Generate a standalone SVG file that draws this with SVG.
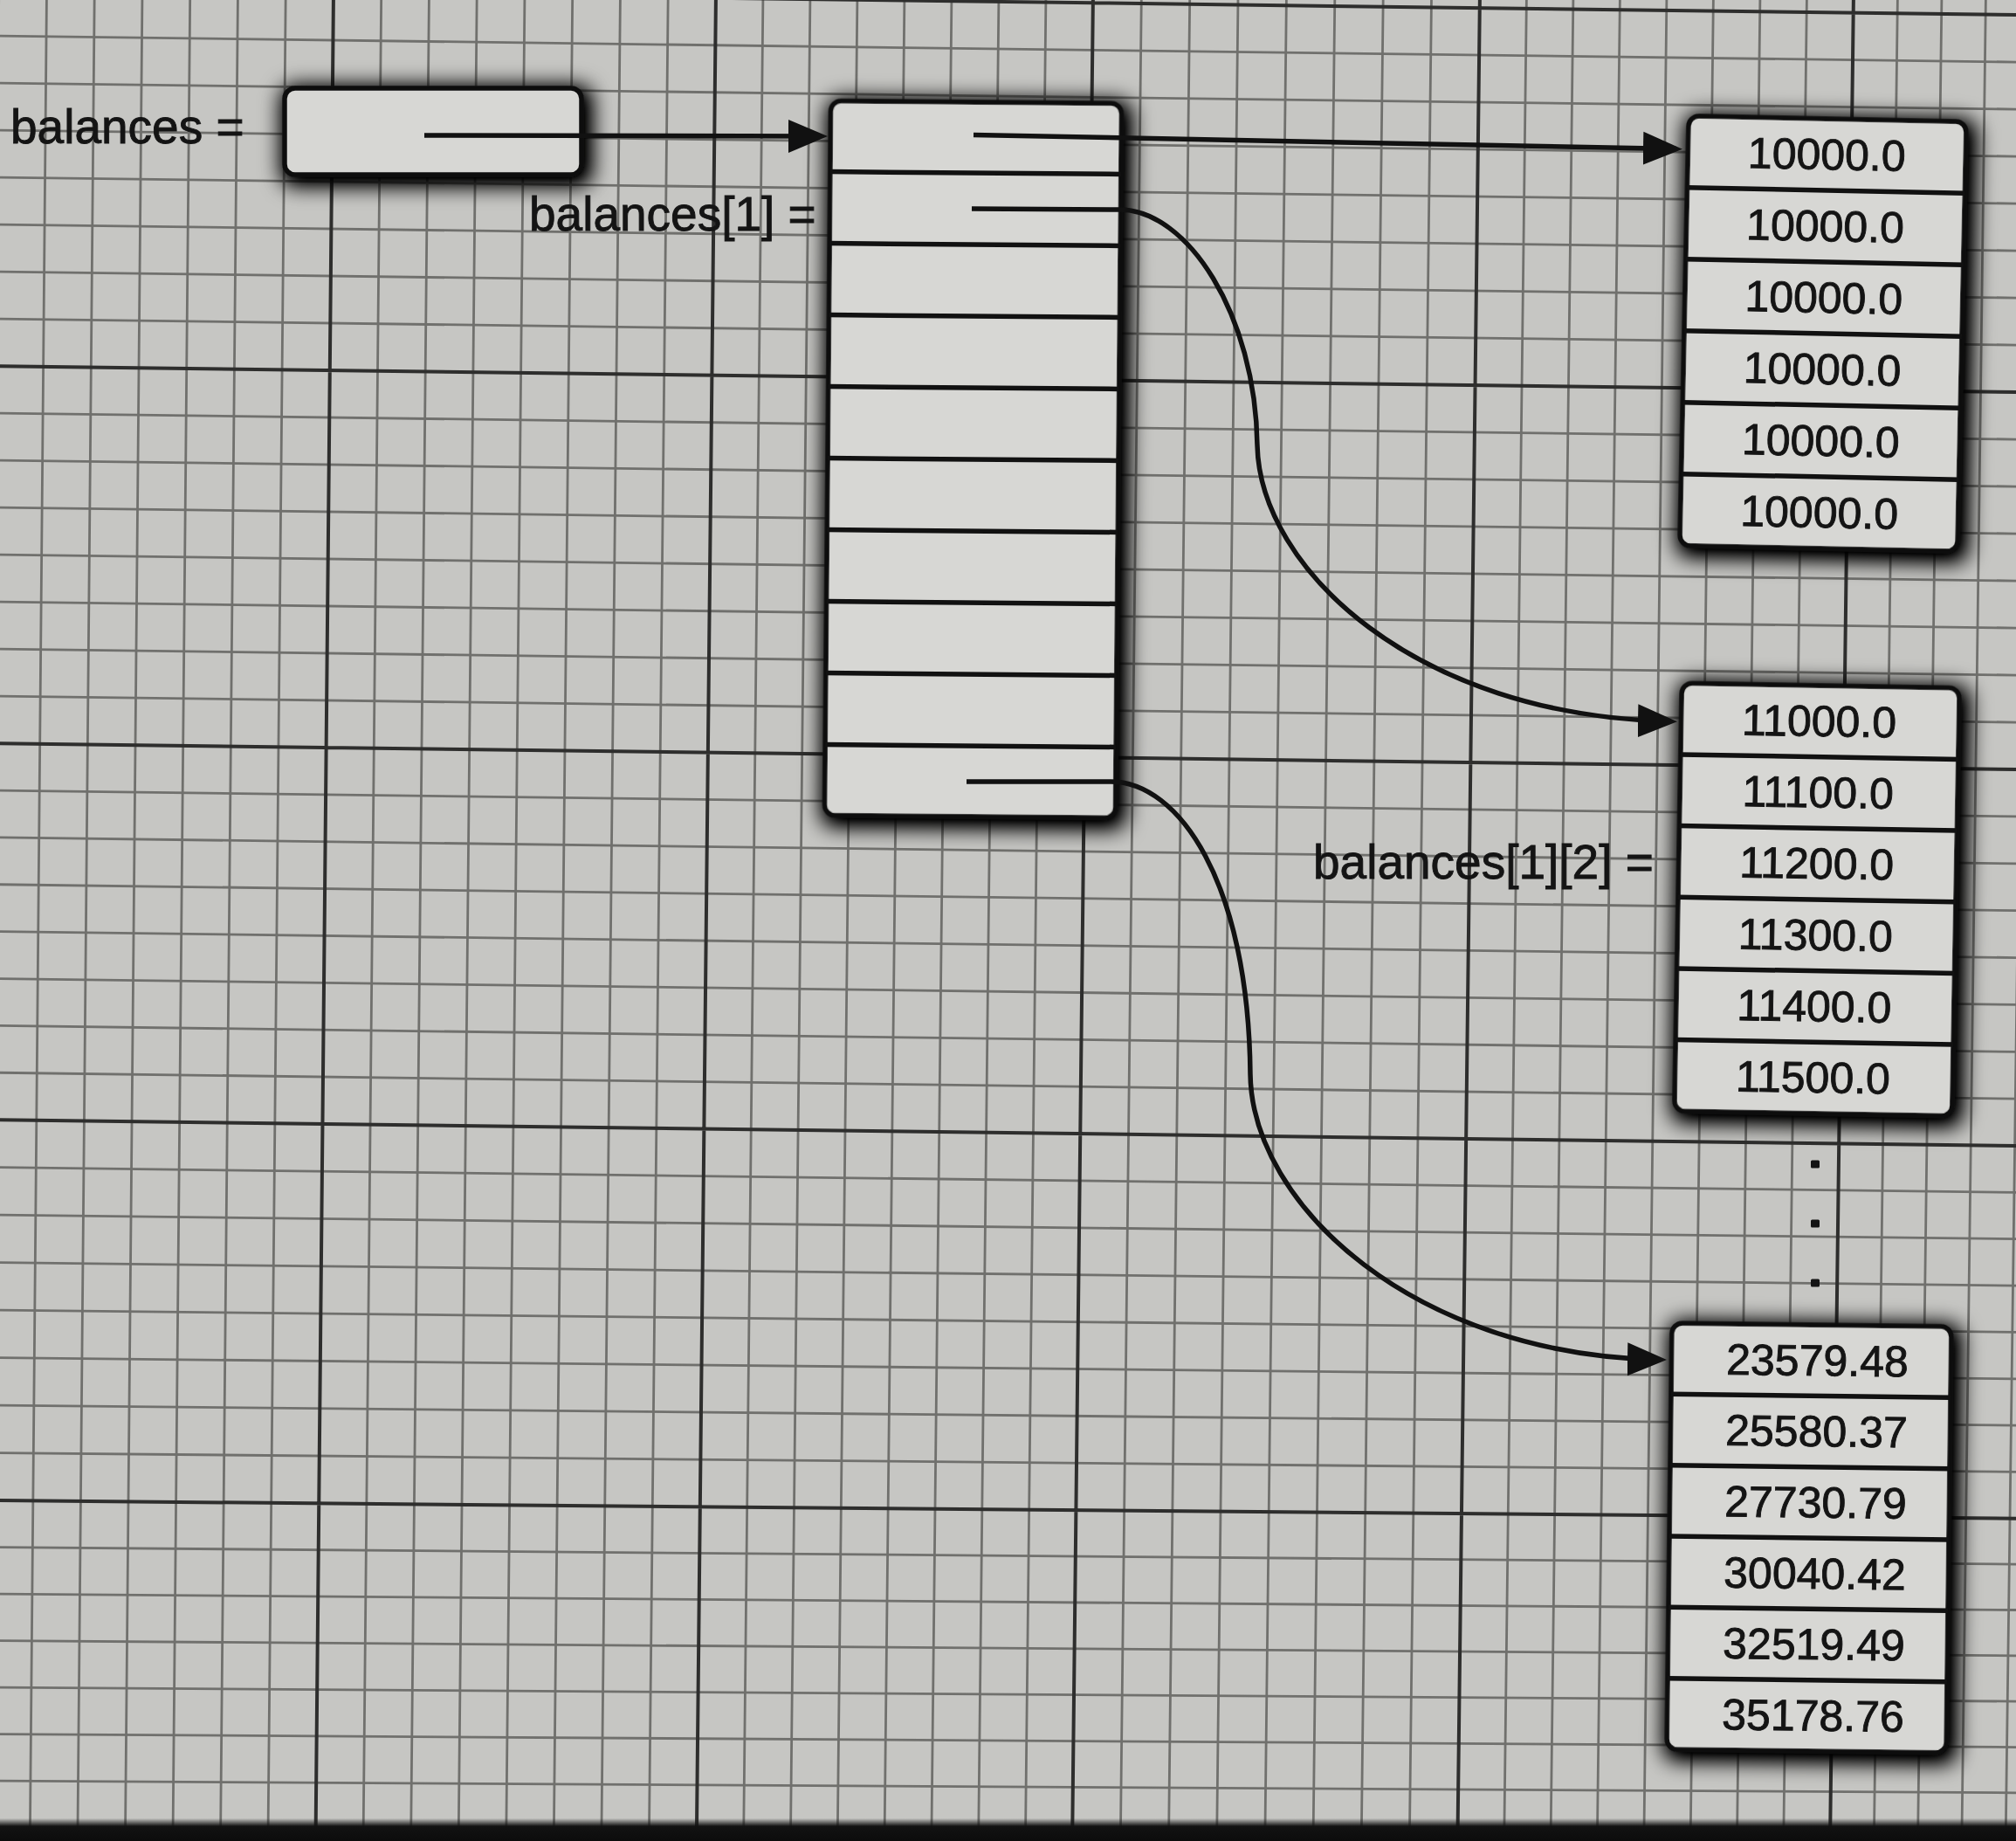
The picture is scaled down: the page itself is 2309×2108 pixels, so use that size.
<svg xmlns="http://www.w3.org/2000/svg" width="2309" height="2108" viewBox="0 0 2309 2108">
<style>
.paper{fill:#c6c6c3}
.minor{stroke:#70706d;stroke-width:2.8;fill:none}
.major{stroke:#2e2e2d;stroke-width:4;fill:none}
.box{fill:#d7d7d4;stroke:#0e0e0e;stroke-width:5.5}
.div{stroke:#111;stroke-width:5.5;fill:none}
.num{font-family:"Liberation Sans",Arial,Helvetica,sans-serif;font-size:50px;fill:#141414;stroke:#141414;stroke-width:0.9;text-anchor:middle}
.lbl{font-family:"Liberation Sans",Arial,Helvetica,sans-serif;font-size:55px;fill:#141414;stroke:#141414;stroke-width:0.9}
.conn{stroke:#111;stroke-width:5.5;fill:none}
.dot{fill:#141414}
</style>
<defs>
<filter id="shadow" x="-30%" y="-70%" width="160%" height="240%">
<feMorphology in="SourceAlpha" operator="dilate" radius="5" result="d"/>
<feGaussianBlur in="d" stdDeviation="12" result="b"/>
<feOffset in="b" dx="4" dy="5" result="o"/>
<feComponentTransfer in="o" result="s"><feFuncA type="linear" slope="1.25"/></feComponentTransfer>
<feMerge><feMergeNode in="s"/><feMergeNode in="SourceGraphic"/></feMerge>
</filter>
<marker id="ah" markerUnits="userSpaceOnUse" markerWidth="50" markerHeight="42" refX="38" refY="20" orient="auto" viewBox="0 0 50 42">
<path d="M0,1 L45,20 L0,39 z" fill="#111"/>
</marker>
<linearGradient id="edge" x1="0" y1="0" x2="0" y2="1">
<stop offset="0" stop-color="#121212" stop-opacity="0"/>
<stop offset="0.35" stop-color="#121212" stop-opacity="1"/>
<stop offset="1" stop-color="#0c0c0c" stop-opacity="1"/>
</linearGradient>
</defs>

<g id="paper">
<rect class="paper" x="0" y="0" width="2309" height="2108"/>
<path class="minor" d="M-1.25,-10L-20.35,2120M53.5,-10L34.2,2120M108.25,-10L88.75,2120M163,-10L143.3,2120M217.75,-10L197.85,2120M272.5,-10L252.4,2120M327.25,-10L306.85,2120M436.75,-10L415.95,2120M491.5,-10L470.5,2120M546.25,-10L525.05,2120M601,-10L579.6,2120M655.75,-10L634.15,2120M710.5,-10L688.7,2120M765.25,-10L743.25,2120M874,-10L851.5,2120M928,-10L905.3,2120M982,-10L959.1,2120M1036,-10L1012.9,2120M1090,-10L1066.7,2120M1144,-10L1120.5,2120M1198,-10L1174.3,2120M1307.4,-10L1283.2,2120M1362.8,-10L1338.4,2120M1418.1,-10L1393.5,2120M1473.5,-10L1448.7,2120M1528.9,-10L1503.9,2120M1584.3,-10L1559.1,2120M1639.6,-10L1614.2,2120M1748.5,-10L1722.6,2120M1802,-10L1775.9,2120M1855.5,-10L1829.2,2120M1909,-10L1882.7,2120M1962.5,-10L1936,2120M2016,-10L1989.3,2120M2069.5,-10L2042.6,2120M2173.5,-10L2146.2,2120M2224,-10L2196.4,2120M2274.5,-10L2246.7,2120M2325,-10L2297,2120"/>
<path class="minor" d="M-10,41L2320,71.2M-10,95L2320,125.2M-10,149L2320,179.2M-10,203L2320,233.2M-10,257L2320,287.2M-10,311L2320,341.2M-10,365L2320,395.2M-10,473L2320,503.2M-10,527L2320,557.2M-10,581L2320,611.2M-10,635L2320,665.2M-10,689L2320,719.2M-10,743L2320,773.2M-10,797L2320,827.2M-10,904.9L2320,935.1M-10,958.8L2320,989M-10,1012.6L2320,1042.8M-10,1066.5L2320,1096.7M-10,1120.4L2320,1150.6M-10,1174.3L2320,1204.5M-10,1228.1L2320,1258.3M-10,1336.5L2320,1365.5M-10,1391L2320,1418.8M-10,1445.5L2320,1472.2M-10,1500L2320,1525.5M-10,1554.5L2320,1578.9M-10,1609L2320,1632.2M-10,1663.5L2320,1685.5M-10,1771.5L2320,1791.2M-10,1825L2320,1843.6M-10,1878.5L2320,1895.9M-10,1932L2320,1948.2M-10,1985.5L2320,2000.6M-10,2039L2320,2052.9M-10,2092.5L2320,2105.3"/>
<path class="major" d="M-56,-10L-74.9,2120M382,-10L361.4,2120M820,-10L797.7,2120M1252,-10L1228,2120M1695,-10L1669.3,2120M2123,-10L2095.9,2120M-10,-13L2320,17.2M-10,419L2320,449.2M-10,851L2320,881.2M-10,1282L2320,1312.2M-10,1718L2320,1738.9"/>
<rect x="0" y="2082" width="2309" height="26" fill="url(#edge)"/>
</g>

<g id="node-balances">
<rect class="box" x="326" y="101" width="340" height="99" rx="12" filter="url(#shadow)"/>
</g>

<g id="node-rows" transform="rotate(0.5 1114.5 526)">
<rect class="box" x="948" y="117" width="333" height="818" rx="12" filter="url(#shadow)"/>
<path class="div" d="M948,198H1281M948,280H1281M948,362H1281M948,444H1281M948,526H1281M948,608H1281M948,690H1281M948,772H1281M948,854H1281"/>
</g>

<g id="node-row0" transform="rotate(1.2 2088 382)">
<rect class="box" x="1929" y="136" width="318" height="492" rx="12" filter="url(#shadow)"/>
<path class="div" d="M1929,218H2247M1929,300H2247M1929,382H2247M1929,464H2247M1929,546H2247"/>
<text class="num" x="2088" y="194">10000.0</text>
<text class="num" x="2088" y="276">10000.0</text>
<text class="num" x="2088" y="358">10000.0</text>
<text class="num" x="2088" y="440">10000.0</text>
<text class="num" x="2088" y="522">10000.0</text>
<text class="num" x="2088" y="604">10000.0</text>
</g>

<g id="node-row1" transform="rotate(1 2081 1030)">
<rect class="box" x="1922" y="785" width="318" height="490" rx="12" filter="url(#shadow)"/>
<path class="div" d="M1922,866.7H2240M1922,948.3H2240M1922,1030H2240M1922,1111.7H2240M1922,1193.3H2240"/>
<text class="num" x="2080" y="843">11000.0</text>
<text class="num" x="2080" y="924.5">11100.0</text>
<text class="num" x="2080" y="1006">11200.0</text>
<text class="num" x="2080" y="1088">11300.0</text>
<text class="num" x="2080" y="1169.5">11400.0</text>
<text class="num" x="2080" y="1251">11500.0</text>
</g>

<g id="ellipsis">
<rect class="dot" x="2074" y="1328.5" width="10" height="9" rx="1.5"/>
<rect class="dot" x="2074" y="1396.5" width="10" height="9" rx="1.5"/>
<rect class="dot" x="2074" y="1464.5" width="10" height="9" rx="1.5"/>
</g>

<g id="node-row9" transform="rotate(0.7 2072 1761)">
<rect class="box" x="1912" y="1517" width="320" height="488" rx="12" filter="url(#shadow)"/>
<path class="div" d="M1912,1598.3H2232M1912,1679.7H2232M1912,1761H2232M1912,1842.3H2232M1912,1923.7H2232"/>
<text class="num" x="2079" y="1575">23579.48</text>
<text class="num" x="2079" y="1656">25580.37</text>
<text class="num" x="2079" y="1737.5">27730.79</text>
<text class="num" x="2079" y="1819">30040.42</text>
<text class="num" x="2079" y="1900">32519.49</text>
<text class="num" x="2079" y="1981.5">35178.76</text>
</g>

<g id="labels">
<text id="label-balances" class="lbl" x="12" y="164">balances =</text>
<text id="label-balances1" class="lbl" x="606" y="264">balances[1] =</text>
<text id="label-balances12" class="lbl" x="1504" y="1006">balances[1][2] =</text>
</g>

<g id="connectors">
<path class="conn" d="M486,155 L941,156" marker-end="url(#ah)"/>
<path class="conn" d="M1115,154.5 L1920,170.5" marker-end="url(#ah)"/>
<path class="conn" d="M1113,239 L1282,240 C1360,240 1438,360 1440,510 C1443,650 1620,820 1914,826" marker-end="url(#ah)"/>
<path class="conn" d="M1107,895 L1272,895 C1350,895 1430,1010 1432,1230 C1434,1380 1620,1552 1902,1557" marker-end="url(#ah)"/>
</g>
</svg>
